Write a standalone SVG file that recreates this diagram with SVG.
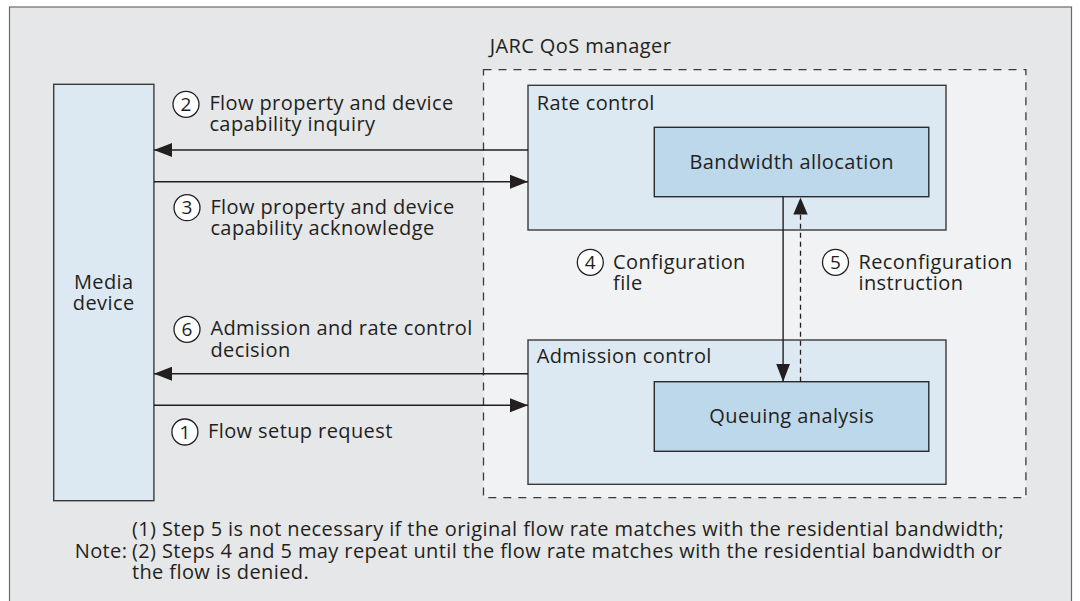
<svg xmlns="http://www.w3.org/2000/svg" width="1080" height="601" viewBox="0 0 1080 601">
  <style>
    text { font-family: "Open Sans", "Noto Sans", "Liberation Sans", sans-serif; font-size: 20px; letter-spacing: 0.4px; fill: #231f20; }
    .box { fill: #dce9f3; stroke: #3a3a3a; stroke-width: 1.4; }
    .inner { fill: #bdd8ea; stroke: #2a2a2a; stroke-width: 1.4; }
    .step { fill: #ffffff; stroke: #231f20; stroke-width: 1.3; }
    .num { text-anchor: middle; font-size: 19px; letter-spacing: 0; }
    .mid { text-anchor: middle; }
    .link { stroke: #231f20; stroke-width: 1.4; fill: none; }
    .dash { stroke: #231f20; stroke-width: 1.3; fill: none; stroke-dasharray: 5 4; }
  </style>
  <defs>
    <marker id="head" viewBox="0 0 18 14" refX="18" refY="7" markerWidth="18" markerHeight="14" markerUnits="userSpaceOnUse" orient="auto">
      <path d="M0,0 L18,7 L0,14 Z" fill="#231f20"/>
    </marker>
  </defs>

  <!-- page background and frame -->
  <rect x="0" y="0" width="1080" height="601" fill="#ffffff"/>
  <rect x="9.5" y="7" width="1062" height="600" fill="#e6e7e9" stroke="#6a6a6a" stroke-width="1.2"/>

  <!-- JARC QoS manager container -->
  <g id="qos-manager">
    <rect x="483.5" y="69.7" width="542.4" height="428" fill="#f1f2f4" stroke="#3a3a3a" stroke-width="1.3" stroke-dasharray="8 7"/>
    <text x="489.7" y="53">JARC QoS manager</text>
  </g>

  <g id="media-device">
    <rect class="box" x="53.7" y="84.3" width="100.2" height="416.4"/>
    <text class="mid" x="103.7" y="288.5">Media</text>
    <text class="mid" x="103.7" y="309.5">device</text>
  </g>

  <g id="rate-control">
    <rect class="box" x="528" y="85.3" width="418" height="144.7"/>
    <text x="536.7" y="110">Rate control</text>
  </g>

  <g id="bandwidth-allocation">
    <rect class="inner" x="654.3" y="127.3" width="274.5" height="69.4"/>
    <text class="mid" x="791.7" y="169.3">Bandwidth allocation</text>
  </g>

  <g id="admission-control">
    <rect class="box" x="528" y="340" width="418" height="144.3"/>
    <text x="536.7" y="363.3">Admission control</text>
  </g>

  <g id="queuing-analysis">
    <rect class="inner" x="654.3" y="381.7" width="274.5" height="69.6"/>
    <text class="mid" x="791.7" y="423.3">Queuing analysis</text>
  </g>

  <!-- message arrows between device and manager -->
  <g id="connectors">
    <line class="link" x1="528" y1="150" x2="154" y2="150" marker-end="url(#head)"/>
    <line class="link" x1="154" y1="181.7" x2="528" y2="181.7" marker-end="url(#head)"/>
    <line class="link" x1="528" y1="373.7" x2="154" y2="373.7" marker-end="url(#head)"/>
    <line class="link" x1="154" y1="405.3" x2="528" y2="405.3" marker-end="url(#head)"/>
    <line class="link" x1="783.1" y1="196.7" x2="783.1" y2="381.7" marker-end="url(#head)"/>
    <line class="dash" x1="800.5" y1="381.7" x2="800.5" y2="214"/>
    <path d="M800.5,197.5 L807.7,214.5 L793.3,214.5 Z" fill="#231f20"/>
  </g>

  <!-- step labels -->
  <g id="step-2">
    <circle class="step" cx="186" cy="104.3" r="13"/>
    <text class="num" x="186" y="111">2</text>
    <text x="209.4" y="110">Flow property and device</text>
    <text x="209.4" y="131">capability inquiry</text>
  </g>
  <g id="step-3">
    <circle class="step" cx="187" cy="207.7" r="13"/>
    <text class="num" x="187" y="214.4">3</text>
    <text x="210.4" y="214">Flow property and device</text>
    <text x="210.4" y="235">capability acknowledge</text>
  </g>
  <g id="step-4">
    <circle class="step" cx="590.3" cy="262.3" r="13"/>
    <text class="num" x="590.3" y="269">4</text>
    <text x="613" y="268.7">Configuration</text>
    <text x="613" y="290">file</text>
  </g>
  <g id="step-5">
    <circle class="step" cx="835.5" cy="262.3" r="13"/>
    <text class="num" x="835.5" y="269">5</text>
    <text x="858.5" y="268.7">Reconfiguration</text>
    <text x="858.5" y="290">instruction</text>
  </g>
  <g id="step-6">
    <circle class="step" cx="187" cy="329.3" r="13"/>
    <text class="num" x="187" y="336">6</text>
    <text x="210.4" y="335">Admission and rate control</text>
    <text x="210.4" y="356.5">decision</text>
  </g>
  <g id="step-1">
    <circle class="step" cx="184.9" cy="432" r="13"/>
    <text class="num" x="184.9" y="438.7">1</text>
    <text x="208" y="438.3">Flow setup request</text>
  </g>

  <!-- footnote -->
  <g id="note">
    <text x="131.9" y="536">(1) Step 5 is not necessary if the original flow rate matches with the residential bandwidth;</text>
    <text x="74.7" y="558.3">Note:</text>
    <text x="131.9" y="558.3">(2) Steps 4 and 5 may repeat until the flow rate matches with the residential bandwidth or</text>
    <text x="131.9" y="578.7">the flow is denied.</text>
  </g>
</svg>
